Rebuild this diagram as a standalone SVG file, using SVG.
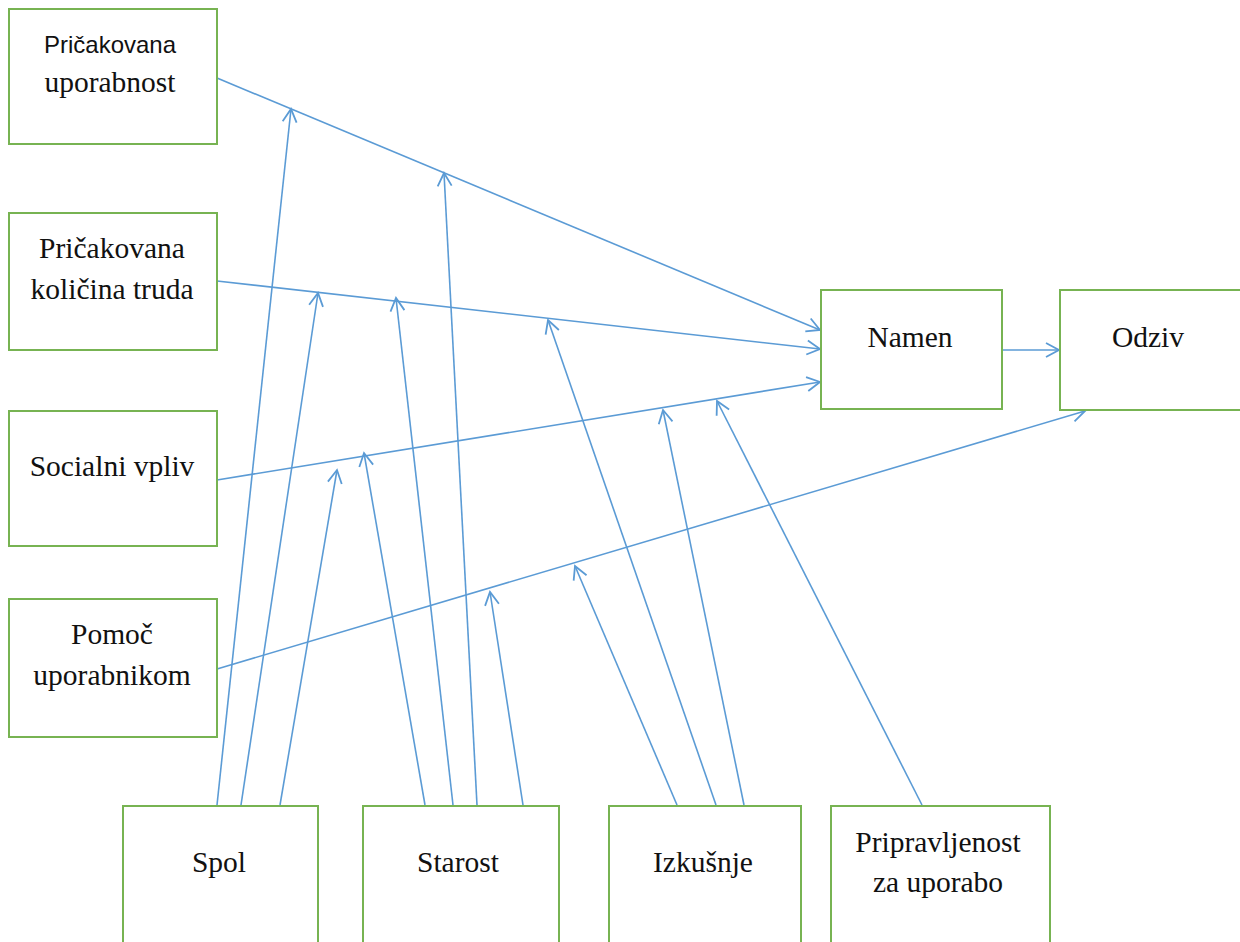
<svg xmlns="http://www.w3.org/2000/svg" width="1240" height="942" viewBox="0 0 1240 942">
<defs>
<style>
.box{fill:#ffffff;stroke:#77b352;stroke-width:2}
.t{font-family:"Liberation Serif","Times New Roman",serif;font-size:29.5px;fill:#111;text-anchor:middle}
.ts{font-family:"Liberation Sans",Arial,sans-serif;font-size:24px;fill:#111;text-anchor:middle}
.c{stroke:#5b9bd5;stroke-width:1.6;fill:none;marker-end:url(#ah)}
</style>
<marker id="ah" markerUnits="userSpaceOnUse" markerWidth="20" markerHeight="20" viewBox="-16 -10 20 20" refX="0" refY="0" orient="auto">
<path d="M-13,-7 L0,0 L-13,7" fill="none" stroke="#5b9bd5" stroke-width="1.8"/>
</marker>
</defs>
<rect width="1240" height="942" fill="#ffffff"/>
<g id="connectors">
<path class="c" d="M217,78 L820,330"/>
<path class="c" d="M217,281 L820,349"/>
<path class="c" d="M217,480 L820,382"/>
<path class="c" d="M1002,350 L1059,350"/>
<path class="c" d="M217,669 L1085,411"/>
<path class="c" d="M217,805 L291,109"/>
<path class="c" d="M241,805 L318,293"/>
<path class="c" d="M280,805 L337,470"/>
<path class="c" d="M425,805 L364,453"/>
<path class="c" d="M453,805 L396,298"/>
<path class="c" d="M477,805 L444,173"/>
<path class="c" d="M523,805 L490,592"/>
<path class="c" d="M677,805 L575,566"/>
<path class="c" d="M716,805 L548,320"/>
<path class="c" d="M744,805 L663,410"/>
<path class="c" d="M922,805 L717,401"/>
</g>
<g id="n-uporabnost">
<rect class="box" x="9" y="9" width="208" height="135"/>
<text class="ts" x="110" y="53">Pričakovana</text>
<text class="t" x="110" y="92">uporabnost</text>
</g>
<g id="n-trud">
<rect class="box" x="9" y="213" width="208" height="137"/>
<text class="t" x="112" y="258">Pričakovana</text>
<text class="t" x="112" y="299">količina truda</text>
</g>
<g id="n-socialni">
<rect class="box" x="9" y="411" width="208" height="135"/>
<text class="t" x="112" y="476">Socialni vpliv</text>
</g>
<g id="n-pomoc">
<rect class="box" x="9" y="599" width="208" height="138"/>
<text class="t" x="112" y="644">Pomoč</text>
<text class="t" x="112" y="685">uporabnikom</text>
</g>
<g id="n-namen">
<rect class="box" x="821" y="290" width="181" height="119"/>
<text class="t" x="910" y="347">Namen</text>
</g>
<g id="n-odziv">
<rect class="box" x="1060" y="290" width="190" height="120"/>
<text class="t" x="1148" y="347">Odziv</text>
</g>
<g id="n-spol">
<rect class="box" x="123" y="806" width="195" height="160"/>
<text class="t" x="219" y="872">Spol</text>
</g>
<g id="n-starost">
<rect class="box" x="363" y="806" width="196" height="160"/>
<text class="t" x="458" y="872">Starost</text>
</g>
<g id="n-izkusnje">
<rect class="box" x="609" y="806" width="192" height="160"/>
<text class="t" x="703" y="872">Izkušnje</text>
</g>
<g id="n-pripravljenost">
<rect class="box" x="831" y="806" width="219" height="160"/>
<text class="t" x="938" y="852">Pripravljenost</text>
<text class="t" x="938" y="892">za uporabo</text>
</g>
</svg>
